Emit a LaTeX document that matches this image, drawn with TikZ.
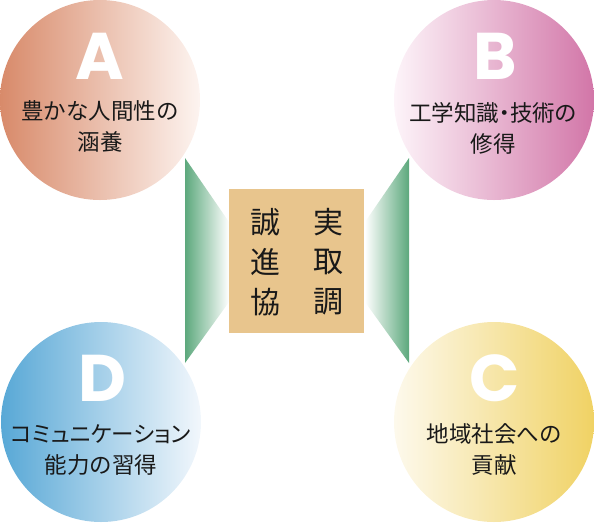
\documentclass[tikz,border=0pt]{standalone}
\usepackage{fontspec}
\newfontfamily\jp{Noto Sans CJK JP}
\newfontfamily\jppalt{Noto Sans CJK JP}[RawFeature=+palt]
\newfontfamily\letterfont{Poppins}
\definecolor{grn}{RGB}{92,168,124}
\definecolor{boxc}{RGB}{232,197,141}
\definecolor{aL}{RGB}{216,138,106}
\definecolor{aR}{RGB}{253,244,240}
\definecolor{bL}{RGB}{253,244,249}
\definecolor{bR}{RGB}{210,118,168}
\definecolor{cL}{RGB}{253,249,236}
\definecolor{cR}{RGB}{240,210,100}
\definecolor{dL}{RGB}{88,168,214}
\definecolor{dR}{RGB}{242,247,252}
\tikzset{
  letter/.style={text=white, font=\letterfont\bfseries\fontsize{66}{66}\selectfont, inner sep=0pt},
  lbl/.style={text=black!90, font=\jp\fontsize{22.5}{31}\selectfont, align=center, inner sep=0pt},
  kanji/.style={text=black!90, font=\jp\fontsize{30}{30}\selectfont, inner sep=0pt}
}
\begin{document}
\begin{tikzpicture}[x=1pt,y=-1pt]
\useasboundingbox (0,0) rectangle (594,523);
% connectors (trapezoids)
\shade[left color=grn, right color=white] (185,158) -- (229,222) -- (229,302) -- (185,363) -- cycle;
\shade[left color=white, right color=grn] (409,158) -- (365,222) -- (365,302) -- (409,363) -- cycle;
% circles
\shade[left color=aL, right color=aR] (100,100) circle (100);
\shade[left color=bL, right color=bR] (494,100) circle (100);
\shade[left color=cL, right color=cR] (494,422) circle (100);
\shade[left color=dL, right color=dR] (101,422) circle (100);
% center box
\node[fill=boxc, minimum width=135pt, minimum height=144pt, inner sep=0pt] (box) at (296.5,261) {};
\node[kanji] (k1) at (265,222) {誠};
\node[kanji] (k2) at (328,222) {実};
\node[kanji] (k3) at (265,262) {進};
\node[kanji] (k4) at (328,262) {取};
\node[kanji] (k5) at (265,302) {協};
\node[kanji] (k6) at (328,302) {調};
% letters
\node[letter] (A) at (100,56) {A};
\node[letter] (B) at (495,56) {B};
\node[letter] (C) at (495,378) {C};
\node[letter] (D) at (102,378) {D};
% labels
\node[lbl] (la) at (100,126.5) {豊かな人間性の\\涵養};
\node[lbl] (lb) at (493,128) {{\jppalt 工学知識・技術の}\\修得};
\node[lbl] (lc) at (494,449) {地域社会への\\貢献};
\node[lbl] (ld) at (101,450) {{\jppalt コミュニケーション}\\能力の習得};
\end{tikzpicture}
\end{document}
